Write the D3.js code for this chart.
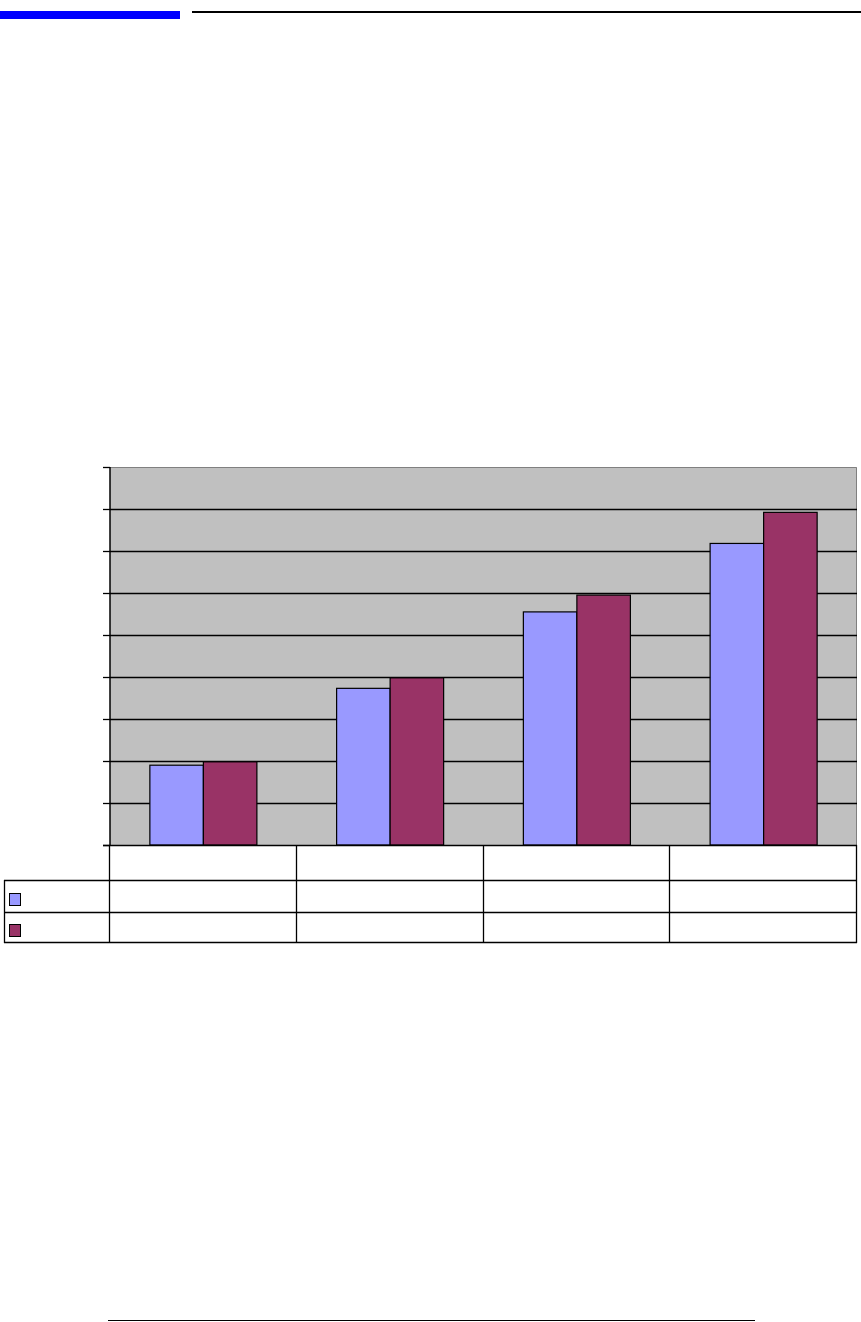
<!DOCTYPE html>
<html>
<head>
<meta charset="utf-8">
<script src="https://cdn.jsdelivr.net/npm/d3@7/dist/d3.min.js"></script>
<style>
html,body{margin:0;padding:0;background:#fff;}
svg{display:block;}
</style>
</head>
<body>
<svg id="chart" width="861" height="1322"></svg>
<script>
// Data (units = gridline intervals)
const categories = ["A", "B", "C", "D"];
const seriesNames = ["Series 1", "Series 2"];
const series1 = [1.90, 3.73, 5.55, 7.18];
const series2 = [1.98, 3.98, 5.95, 7.92];
const yTicks = [0, 1, 2, 3, 4, 5, 6, 7, 8, 9];
const colors = ["#9999FF", "#993366"];

const svg = d3.select("#chart");

// Header decorations
svg.append("rect").attr("x", 0).attr("y", 11).attr("width", 180).attr("height", 8).attr("fill", "#0000FF");
svg.append("rect").attr("x", 192).attr("y", 11).attr("width", 669).attr("height", 2).attr("fill", "#000");
// Footer line
svg.append("rect").attr("x", 108).attr("y", 1320).attr("width", 647).attr("height", 1).attr("fill", "#000");

const plot = {left: 110, right: 857, top: 467, bottom: 845};

const x = d3.scaleBand().domain(categories).range([plot.left, plot.right]).paddingInner(0).paddingOuter(0);
const xs = d3.scaleBand().domain(seriesNames).range([0, x.bandwidth()]).paddingInner(0).paddingOuter(0.745);
const y = d3.scaleLinear().domain([0, 9]).range([plot.bottom, plot.top]);

// plot background
svg.append("rect").attr("x", plot.left).attr("y", plot.top)
  .attr("width", plot.right - plot.left).attr("height", plot.bottom - plot.top)
  .attr("fill", "#C0C0C0");
// top/right border gray
svg.append("path").attr("d", `M${plot.left},${plot.top+0.5}H${plot.right-0.5}V${plot.bottom}`)
  .attr("fill", "none").attr("stroke", "#808080").attr("stroke-width", 1);

// gridlines
svg.append("g").selectAll("line").data(yTicks.filter(t => t > 0 && t < 9)).join("line")
  .attr("x1", plot.left).attr("x2", plot.right)
  .attr("y1", d => Math.round(y(d)) + 0.5).attr("y2", d => Math.round(y(d)) + 0.5)
  .attr("stroke", "#000").attr("stroke-width", 1.3);

// y axis with ticks, no labels
const yAxis = d3.axisLeft(y).tickValues(yTicks).tickSize(7).tickFormat("");
const gy = svg.append("g").attr("transform", `translate(${plot.left},0)`).call(yAxis);
gy.select(".domain").attr("stroke", "#000").attr("stroke-width", 1.5).attr("d", `M0,${plot.top}V${plot.bottom}`);
gy.selectAll(".tick line").attr("stroke", "#000").attr("stroke-width", 1.3);

// bars
const data = categories.map((c, i) => ({c, vals: [series1[i], series2[i]]}));
const groups = svg.append("g").selectAll("g").data(data).join("g")
  .attr("transform", d => `translate(${x(d.c)},0)`);
groups.selectAll("rect").data(d => d.vals.map((v, j) => ({v, j}))).join("rect")
  .attr("x", d => xs(seriesNames[d.j]))
  .attr("width", xs.bandwidth())
  .attr("y", d => y(d.v))
  .attr("height", d => y(0) - y(d.v))
  .attr("fill", d => colors[d.j])
  .attr("stroke", "#000").attr("stroke-width", 1.2);

// bottom axis line
svg.append("line").attr("x1", plot.left - 7).attr("x2", plot.right)
  .attr("y1", plot.bottom + 0.5).attr("y2", plot.bottom + 0.5)
  .attr("stroke", "#000").attr("stroke-width", 1.3);

// data table
const tbl = svg.append("g").attr("stroke", "#000").attr("stroke-width", 1.3).attr("fill", "none");
[880.5, 912.5, 942.5].forEach(yy => {
  tbl.append("line").attr("x1", 4).attr("x2", plot.right).attr("y1", yy).attr("y2", yy);
});
tbl.append("line").attr("x1", 4.5).attr("x2", 4.5).attr("y1", 880).attr("y2", 943);
const colEdges = categories.map(c => x(c)).concat([plot.right]);
tbl.selectAll("line.col").data(colEdges).join("line").attr("class", "col")
  .attr("x1", d => Math.round(d) - 0.5).attr("x2", d => Math.round(d) - 0.5)
  .attr("y1", plot.bottom).attr("y2", 943);
// legend keys
svg.append("g").selectAll("rect").data(seriesNames).join("rect")
  .attr("x", 9.5).attr("width", 11).attr("height", 12)
  .attr("y", (d, i) => [893.5, 924.5][i])
  .attr("fill", (d, i) => colors[i]).attr("stroke", "#000").attr("stroke-width", 1);
</script>
</body>
</html>
